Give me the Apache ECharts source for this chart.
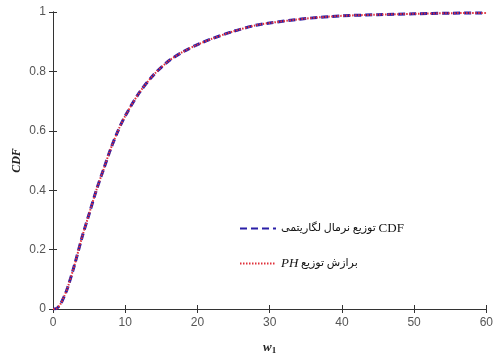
<!DOCTYPE html>
<html>
<head>
<meta charset="utf-8">
<script src="https://cdn.jsdelivr.net/npm/echarts@6/dist/echarts.min.js"></script>
<style>
  html, body { margin: 0; padding: 0; background: #fff; }
  #chart { width: 496px; height: 360px; }
</style>
</head>
<body>
<div id="chart"></div>
<script>
  // values
  var xValues = [0, 0.5, 1, 1.5, 2, 3, 4, 5, 6, 7, 8, 9, 10, 12, 14, 16, 18, 20, 22, 25, 28, 30, 35, 40, 45, 50, 55, 60];
  var lognormalCdf = [0, 0.002, 0.015, 0.04, 0.07, 0.15, 0.24, 0.32, 0.40, 0.47, 0.54, 0.60, 0.65, 0.73, 0.79, 0.835, 0.866, 0.89, 0.91, 0.935, 0.955, 0.963, 0.978, 0.987, 0.991, 0.994, 0.996, 0.997];
  var phFit = [0, 0.002, 0.015, 0.04, 0.07, 0.15, 0.24, 0.32, 0.40, 0.47, 0.54, 0.60, 0.65, 0.73, 0.79, 0.835, 0.866, 0.89, 0.91, 0.935, 0.955, 0.963, 0.978, 0.987, 0.991, 0.994, 0.996, 0.997];
  var xTicks = [0, 10, 20, 30, 40, 50, 60];
  var yTicks = [0, 0.2, 0.4, 0.6, 0.8, 1];

  var seriesNames = ['lognormal', 'ph'];

  function pairs(ys) {
    return xValues.map(function (x, i) { return [x, ys[i]]; });
  }

  var axisColor = '#333';
  var labelStyle = { color: '#555', fontFamily: 'Liberation Sans, Arial', fontSize: 12 };

  var chart = echarts.init(document.getElementById('chart'));
  chart.setOption({
    animation: false,
    backgroundColor: '#fff',
    grid: { left: 53, right: 6, top: 12, bottom: 45 },
    legend: {
      orient: 'vertical',
      left: 234,
      top: 217,
      itemWidth: 36,
      itemHeight: 14,
      itemGap: 22,
      data: seriesNames,
      itemStyle: { opacity: 0 },
      formatter: function (name) {
        if (name === 'lognormal') return '{p|توزیع نرمال لگاریتمی }{n|CDF}';
        return '{i|PH}{p| برازش توزیع}';
      },
      textStyle: {
        rich: {
          p: { fontFamily: 'Liberation Serif, DejaVu Sans', fontSize: 11, color: '#111' },
          n: { fontFamily: 'Liberation Serif', fontSize: 13, color: '#111' },
          i: { fontFamily: 'Liberation Serif', fontSize: 13, fontStyle: 'italic', color: '#111' }
        }
      }
    },
    xAxis: [{
      type: 'value',
      min: 0, max: 60, interval: 10,
      name: '{w|w}{s|1}',
      nameLocation: 'middle',
      nameGap: 31,
      nameTextStyle: {
        rich: {
          w: { fontFamily: 'Liberation Serif', fontWeight: 'bold', fontStyle: 'italic', fontSize: 13, color: '#222' },
          s: { fontFamily: 'Liberation Serif', fontWeight: 'bold', fontSize: 9, color: '#222', padding: [6, 0, 0, 0] }
        }
      },
      axisLine: { show: true, lineStyle: { color: axisColor } },
      axisTick: { inside: true, length: 4, lineStyle: { color: axisColor } },
      axisLabel: Object.assign({ margin: 8, formatter: function (v) { return xTicks.indexOf(v) >= 0 ? String(v) : ''; } }, labelStyle),
      splitLine: { show: false }
    }, {
      type: 'value',
      position: 'top',
      min: 0, max: 60, interval: 10,
      axisLine: { show: true, lineStyle: { color: axisColor } },
      axisTick: { inside: true, length: 4, lineStyle: { color: axisColor } },
      axisLabel: { show: false },
      splitLine: { show: false }
    }],
    yAxis: [{
      type: 'value',
      min: 0, max: 1, interval: 0.2,
      name: 'CDF',
      nameLocation: 'middle',
      nameGap: 30,
      nameMoveOverlap: false,
      nameTextStyle: { fontFamily: 'Liberation Serif', fontWeight: 'bold', fontStyle: 'italic', fontSize: 12, color: '#222' },
      axisLine: { show: true, lineStyle: { color: axisColor } },
      axisTick: { inside: true, length: 4, lineStyle: { color: axisColor } },
      axisLabel: Object.assign({
        margin: 7,
        formatter: function (v) {
          var r = Math.round(v * 10) / 10;
          return yTicks.indexOf(r) >= 0 ? String(r) : '';
        }
      }, labelStyle),
      splitLine: { show: false }
    }, {
      type: 'value',
      position: 'right',
      min: 0, max: 1, interval: 0.2,
      axisLine: { show: true, lineStyle: { color: axisColor } },
      axisTick: { inside: true, length: 4, lineStyle: { color: axisColor } },
      axisLabel: { show: false },
      splitLine: { show: false }
    }],
    series: [{
      name: 'lognormal',
      type: 'line',
      data: pairs(lognormalCdf),
      smooth: 0.3,
      symbol: 'none',
      lineStyle: { color: '#2a1fa8', width: 3, type: [7, 4] },
      itemStyle: { color: '#2a1fa8' }
    }, {
      name: 'ph',
      type: 'line',
      data: pairs(phFit),
      smooth: 0.3,
      symbol: 'none',
      lineStyle: { color: '#e0303a', width: 2, type: [1.5, 1.5] },
      itemStyle: { color: '#e0303a' }
    }]
  });
</script>
</body>
</html>
